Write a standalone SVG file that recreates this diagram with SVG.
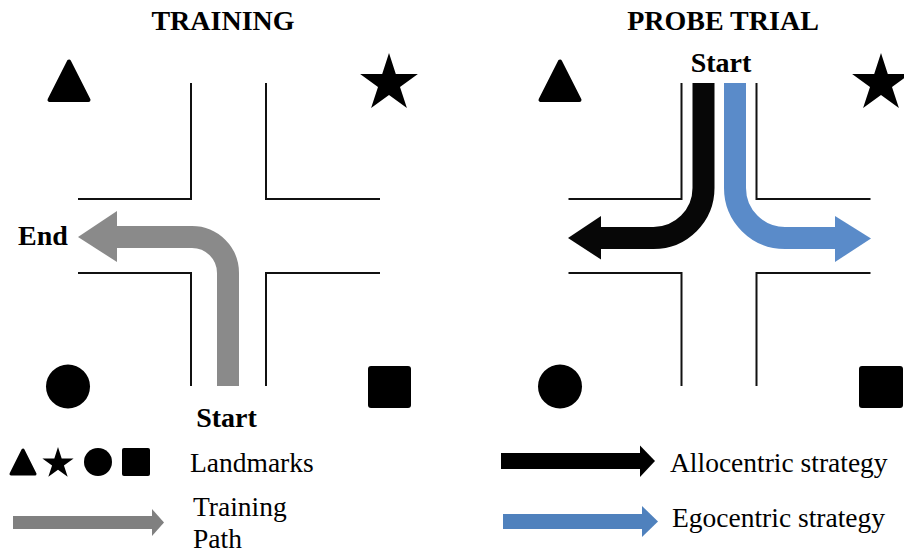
<svg xmlns="http://www.w3.org/2000/svg" xmlns:xlink="http://www.w3.org/1999/xlink" width="904" height="553" viewBox="0 0 904 553">
  <style>
    .wall { fill: none; stroke: #111; stroke-width: 2; }
    .lm { fill: #000; }
    .tri { fill: #000; stroke: #000; stroke-linejoin: round; }
    .title { font-family: "Liberation Serif", "Times New Roman", serif; font-weight: bold; font-size: 28px; fill: #000; }
    .lbl { font-family: "Liberation Serif", "Times New Roman", serif; font-size: 27.5px; fill: #000; }
    .path { fill: none; stroke-width: 22; }
  </style>
  <defs>
    <g id="maze">
      <path class="wall" d="M191,83 V199 H78 M266,83 V199 H380 M78,273 H191 V386 M380,273 H266 V386"/>
    </g>
    <polygon id="star" points="0,-30.4 6.8,-9.4 28.9,-9.4 11,3.6 17.9,24.6 0,11.6 -17.9,24.6 -11,3.6 -28.9,-9.4 -6.8,-9.4"/>
  </defs>
  <rect width="904" height="553" fill="#fff"/>

  <text class="title" x="223" y="30" text-anchor="middle">TRAINING</text>
  <text class="title" x="723" y="29.5" text-anchor="middle">PROBE TRIAL</text>

  <g id="training-maze"><use xlink:href="#maze"/></g>
  <g id="probe-maze"><use xlink:href="#maze" transform="translate(490.5,0)"/></g>

  <g id="training-landmarks">
    <polygon class="tri" stroke-width="4" points="69,61.5 49.5,100 88.5,100"/>
    <use class="lm" xlink:href="#star" transform="translate(389,83.4)"/>
    <circle class="lm" cx="68" cy="386.5" r="22"/>
    <rect class="lm" x="368" y="366" width="43" height="42" rx="3"/>
  </g>
  <g id="probe-landmarks">
    <polygon class="tri" stroke-width="4" points="560,61.5 540.5,100 579.5,100"/>
    <use class="lm" xlink:href="#star" transform="translate(881,83.4)"/>
    <circle class="lm" cx="560" cy="386.5" r="22"/>
    <rect class="lm" x="859" y="366" width="44" height="42" rx="3"/>
  </g>

  <g id="connectors">
    <g id="training-path">
      <path class="path" stroke="#8a8a8a" d="M228,386 V273 A36 36 0 0 0 192 237 H116"/>
      <polygon fill="#8a8a8a" points="117,211 78,237 117,262"/>
    </g>
    <g id="allocentric-path">
      <path class="path" stroke="#070707" stroke-width="21" d="M703.5,83 V188 A50 50 0 0 1 653.5 238 H600"/>
      <polygon fill="#070707" points="601,216 568,238 601,259.5"/>
    </g>
    <g id="egocentric-path">
      <path class="path" stroke="#5a8bc9" stroke-width="21" d="M735,83 V188 A50 50 0 0 0 785 238 H836"/>
      <polygon fill="#5a8bc9" points="835,216 871,238.5 835,262"/>
    </g>
  </g>

  <text class="title" x="721" y="72" text-anchor="middle">Start</text>
  <text class="title" x="18" y="245">End</text>
  <text class="title" x="226.5" y="427" text-anchor="middle">Start</text>

  <g id="legend-landmarks">
    <polygon class="tri" stroke-width="3" points="23,450 11,474 35,474"/>
    <use class="lm" xlink:href="#star" transform="translate(58,463.5) scale(0.54)"/>
    <circle class="lm" cx="98" cy="462" r="14"/>
    <rect class="lm" x="122" y="448" width="28" height="28" rx="2"/>
    <text class="lbl" x="190" y="472">Landmarks</text>
  </g>
  <g id="legend-training">
    <rect x="13" y="516" width="139" height="13" fill="#808080"/>
    <polygon fill="#808080" points="152,509 164,522.5 152,536"/>
    <text class="lbl" x="193" y="516">Training</text>
    <text class="lbl" x="193" y="548">Path</text>
  </g>
  <g id="legend-allocentric">
    <rect x="501" y="453" width="139" height="16" fill="#000"/>
    <polygon fill="#000" points="640,445.5 655,461 640,477"/>
    <text class="lbl" x="670" y="472">Allocentric strategy</text>
  </g>
  <g id="legend-egocentric">
    <rect x="503" y="514" width="139" height="15" fill="#4f81bd"/>
    <polygon fill="#4f81bd" points="642,506 658,521.5 642,537"/>
    <text class="lbl" x="672" y="527">Egocentric strategy</text>
  </g>
</svg>
